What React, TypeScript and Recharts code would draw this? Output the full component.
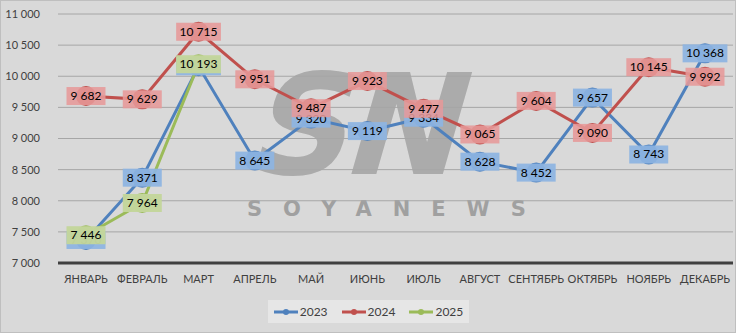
import React from 'react';
import { LineChart, Line, XAxis, YAxis, CartesianGrid, Legend, LabelList } from 'recharts';

const MONTHS = [
  'ЯНВАРЬ', 'ФЕВРАЛЬ', 'МАРТ', 'АПРЕЛЬ', 'МАЙ', 'ИЮНЬ',
  'ИЮЛЬ', 'АВГУСТ', 'СЕНТЯБРЬ', 'ОКТЯБРЬ', 'НОЯБРЬ', 'ДЕКАБРЬ',
];
const VALUES_2023 = [7370, 8371, 10160, 8645, 9320, 9119, 9334, 8628, 8452, 9657, 8743, 10368];
const VALUES_2024 = [9682, 9629, 10715, 9951, 9487, 9923, 9477, 9065, 9604, 9090, 10145, 9992];
const VALUES_2025 = [7446, 7964, 10193, null, null, null, null, null, null, null, null, null];
const Y_TICKS = [7000, 7500, 8000, 8500, 9000, 9500, 10000, 10500, 11000];

const SERIES = [
  { key: 'y2023', name: '2023', line: '#4f81bd', box: 'rgba(141,180,226,0.92)' },
  { key: 'y2024', name: '2024', line: '#c0504d', box: 'rgba(230,152,152,0.88)' },
  { key: 'y2025', name: '2025', line: '#9bbb59', box: 'rgba(195,214,155,0.97)' },
];

const FONT = 'Lato, "Open Sans", sans-serif';

const fmt = (v: number) => String(v).replace(/\B(?=(\d{3})+(?!\d))/g, ' ');

const chartData = MONTHS.map((m, i) => ({
  month: m,
  y2023: VALUES_2023[i],
  y2024: VALUES_2024[i],
  y2025: VALUES_2025[i],
}));

const makeLabel = (fill: string) => (props: any) => {
  const { x, y, value } = props;
  if (value == null || x == null || y == null) return null;
  const text = fmt(value);
  const w = text.length * 5.8 + 10;
  return (
    <g>
      <rect x={x - w / 2} y={y - 9} width={w} height={18} fill={fill} />
      <text
        x={x}
        y={y}
        dy={4}
        textAnchor="middle"
        fontSize={12}
        fontFamily={FONT}
        fill="#000"
      >
        {text}
      </text>
    </g>
  );
};

const LegendBox = () => (
  <div
    style={{
      background: '#e6e6e6',
      width: 201,
      height: 23,
      display: 'flex',
      alignItems: 'center',
      justifyContent: 'center',
      gap: 14,
      fontFamily: FONT,
      fontSize: 12,
      color: '#404040',
    }}
  >
    {SERIES.map((s) => (
      <div key={s.key} style={{ display: 'flex', alignItems: 'center' }}>
        <svg width={24} height={8} style={{ marginRight: 2 }}>
          <line x1={0} y1={4} x2={24} y2={4} stroke={s.line} strokeWidth={3} />
          <circle cx={12} cy={4} r={3} fill={s.line} />
        </svg>
        <span>{s.name}</span>
      </div>
    ))}
  </div>
);

export default function App() {
  return (
    <div
      style={{
        position: 'absolute',
        left: 0,
        top: 0,
        width: 734,
        height: 331,
        background: '#d9d9d9',
        border: '1px solid #bfbfbf',
        overflow: 'hidden',
      }}
    >
      {/* watermark */}
      <div
        style={{
          position: 'absolute',
          left: 232,
          top: 40,
          fontFamily: '"DejaVu Sans", sans-serif',
          fontWeight: 700,
          fontSize: 140,
          lineHeight: '170px',
          color: '#ababab',
          letterSpacing: -6,
          transform: 'skewX(-16deg)',
          transformOrigin: 'left bottom',
        }}
      >
        SN
      </div>
      <div
        style={{
          position: 'absolute',
          left: 246,
          top: 196,
          fontFamily: '"DejaVu Sans", sans-serif',
          fontWeight: 700,
          fontSize: 21,
          color: '#a0a0a0',
          letterSpacing: 21,
        }}
      >
        SOYANEWS
      </div>
      <div style={{ position: 'absolute', left: -1, top: -1 }}>
        <LineChart
          width={736}
          height={333}
          data={chartData}
          margin={{ top: 14, right: 3, left: 0, bottom: 17 }}
        >
          <CartesianGrid vertical={false} stroke="#a6a6a6" strokeWidth={1} />
          <XAxis
            dataKey="month"
            interval={0}
            height={30}
            padding={{ left: 28, right: 28 }}
            tickLine={false}
            axisLine={{ stroke: '#404040', strokeWidth: 3 }}
            tick={{ fill: '#404040', fontSize: 11, fontFamily: FONT }}
            tickMargin={6}
          />
          <YAxis
            width={58}
            domain={[7000, 11000]}
            ticks={Y_TICKS}
            tickFormatter={fmt}
            axisLine={false}
            tickLine={false}
            tickMargin={12}
            tick={{ fill: '#404040', fontSize: 11, fontFamily: FONT }}
          />
          {SERIES.map((s) => (
            <Line
              key={s.key}
              dataKey={s.key}
              name={s.name}
              stroke={s.line}
              strokeWidth={3}
              dot={{ r: 10, fill: s.line, stroke: s.line, strokeWidth: 0 }}
              activeDot={false}
              isAnimationActive={false}
              connectNulls={false}
            >
              <LabelList dataKey={s.key} content={makeLabel(s.box)} />
            </Line>
          ))}
          <Legend
            content={() => <LegendBox />}
            wrapperStyle={{ position: 'absolute', left: 268, top: 300, width: 201, height: 23 }}
          />
        </LineChart>
      </div>
    </div>
  );
}
